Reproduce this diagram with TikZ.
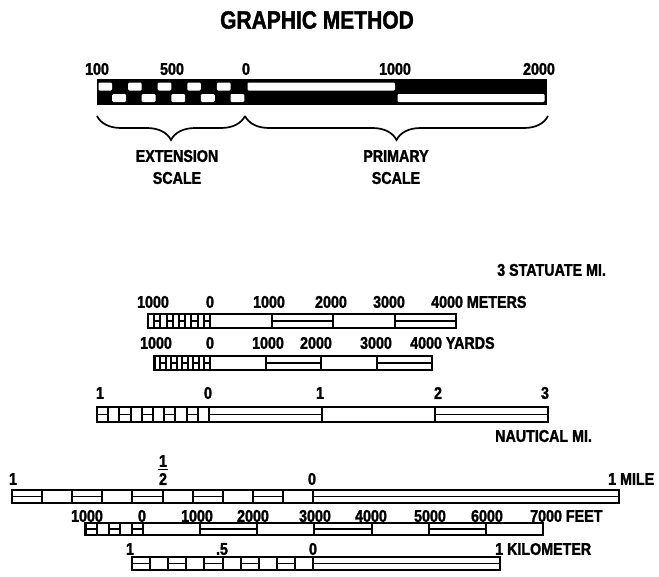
\documentclass[tikz,border=0pt]{standalone}
\usepackage{fontspec}
\setmainfont{Liberation Sans}[FakeStretch=0.84, BoldFeatures={FakeStretch=0.84, FakeBold=1.6}]
\usetikzlibrary{decorations.pathreplacing}
\tikzset{
 outer/.style={line width=2.8pt},
 div/.style={line width=2pt},
 mid/.style={line width=1.9pt},
 lab/.style={inner sep=0pt, font=\fontsize{17}{19}\selectfont\bfseries},
 ttl/.style={inner sep=0pt, font=\fontsize{25}{28}\selectfont\bfseries},
 bracestyle/.style={line width=1.7pt, decorate, decoration={brace, amplitude=24pt}},
 wcell/.style={fill=white, rounded corners=1.2pt},
}
% extension part: #1 left x, #2 zero x, #3 cells, #4 first cell '=' (1) or box (0), #5 top, #6 bottom
\newcommand\extpart[6]{%
  \pgfmathsetmacro\cwid{(#2-#1)/#3}%
  \pgfmathsetmacro\ymid{(#5+#6)/2}%
  \pgfmathtruncatemacro\nlast{#3-1}%
  \foreach \i in {1,...,\nlast} \draw[div] ({#1+\i*\cwid},#5) -- ({#1+\i*\cwid},#6);
  \foreach \i in {0,...,\nlast} {%
    \pgfmathtruncatemacro\pq{mod(\i+#4,2)}%
    \ifnum\pq=1 \draw[mid] ({#1+\i*\cwid},\ymid) -- ({#1+(\i+1)*\cwid},\ymid);\fi
  }%
}
\begin{document}
\begin{tikzpicture}[x=1pt,y=-1pt]
\useasboundingbox (0,0) rectangle (659,576);

% ---------- title ----------
\node[ttl] (title) at (317,20) {GRAPHIC METHOD};

% ---------- graphic bar ----------
\fill (97,79) rectangle (547,105);
\foreach \i in {0,2,4,6,8} \fill[wcell] ({97+\i*14.8+1.5},82.5) rectangle ({97+(\i+1)*14.8+0.3},90.5);
\foreach \i in {1,3,5,7,9} \fill[wcell] ({97+\i*14.8+0.3},94) rectangle ({97+(\i+1)*14.8-0.6},102);
\fill[wcell] (247.5,82.5) rectangle (395,90.5);
\fill[wcell] (397.5,94) rectangle (544.5,102);

\node[lab] (g100) at (97,69) {100};
\node[lab] (g500) at (172,69) {500};
\node[lab] (g0) at (246,69) {0};
\node[lab] (g1000) at (395,69) {1000};
\node[lab] (g2000) at (539,69) {2000};

\coordinate (bA) at (97,116);
\coordinate (bB) at (245,116);
\coordinate (bC) at (548,116);
\draw[bracestyle] (bB) -- (bA);
\draw[bracestyle] (bC) -- (bB);
\node[lab] (ext1) at (177,156) {EXTENSION};
\node[lab] (ext2) at (177,178) {SCALE};
\node[lab] (pri1) at (396,156) {PRIMARY};
\node[lab] (pri2) at (396,178) {SCALE};

% ---------- statute miles label ----------
\node[lab, anchor=west] (stat) at (497,270) {3 STATUATE MI.};

% ---------- meters ----------
\extpart{148}{210}{10}{0}{314}{328}
\foreach \x in {210,271.5,333,394.5} \draw[div] (\x,314) -- (\x,328);
\draw[mid] (271.5,321) -- (333,321);
\draw[mid] (394.5,321) -- (456,321);
\draw[outer] (148,314) rectangle (456,328);
\node[lab] (m1) at (153,302) {1000};
\node[lab] (m2) at (210,302) {0};
\node[lab] (m3) at (269,302) {1000};
\node[lab] (m4) at (331,302) {2000};
\node[lab] (m5) at (389,302) {3000};
\node[lab, anchor=west] (m6) at (431,302) {4000 METERS};

% ---------- yards ----------
\extpart{154.5}{210}{10}{0}{356}{370}
\foreach \x in {210,265.5,321,376.5} \draw[div] (\x,356) -- (\x,370);
\draw[mid] (265.5,363) -- (321,363);
\draw[mid] (376.5,363) -- (432,363);
\draw[outer] (154.5,356) rectangle (432,370);
\node[lab] (y1) at (156,343) {1000};
\node[lab] (y2) at (210,343) {0};
\node[lab] (y3) at (268,343) {1000};
\node[lab] (y4) at (316,343) {2000};
\node[lab] (y5) at (376,343) {3000};
\node[lab, anchor=west] (y6) at (410,343) {4000 YARDS};

% ---------- nautical ----------
\extpart{97}{209}{10}{1}{407}{422}
\foreach \x in {209,322,435} \draw[div] (\x,407) -- (\x,422);
\draw[mid] (209,414.5) -- (322,414.5);
\draw[mid] (435,414.5) -- (548,414.5);
\draw[outer] (97,407) rectangle (548,422);
\node[lab] (n1) at (100,393) {1};
\node[lab] (n2) at (208,393) {0};
\node[lab] (n3) at (320,393) {1};
\node[lab] (n4) at (438,393) {2};
\node[lab] (n5) at (545,393) {3};
\node[lab, anchor=west] (n6) at (495,436) {NAUTICAL MI.};

% ---------- mile ----------
\extpart{12}{313}{10}{1}{490}{503}
\draw[div] (313,490) -- (313,503);
\draw[mid] (313,496.5) -- (619,496.5);
\draw[outer] (12,490) rectangle (619,503);
\node[lab] (mi1) at (13,479) {1};
\node[lab] (mih1) at (163,461) {1};
\draw[line width=1.6pt] (158,469.5) -- (168,469.5);
\node[lab] (mih2) at (163,479) {2};
\node[lab] (mi0) at (312,479) {0};
\node[lab, anchor=west] (mie) at (608,479) {1 MILE};

% ---------- feet ----------
\extpart{85.8}{143}{5}{1}{523}{535}
\foreach \k in {0,...,6} \draw[div] ({143+\k*57.14},523) -- ({143+\k*57.14},535);
\foreach \k in {1,3,5} \draw[mid] ({143+\k*57.14},529) -- ({143+(\k+1)*57.14},529);
\draw[outer] (85.8,523) rectangle (543,535);
\node[lab] (f1) at (87,516) {1000};
\node[lab] (f2) at (142,516) {0};
\node[lab] (f3) at (197,516) {1000};
\node[lab] (f4) at (253,516) {2000};
\node[lab] (f5) at (315,516) {3000};
\node[lab] (f6) at (371,516) {4000};
\node[lab] (f7) at (430,516) {5000};
\node[lab] (f8) at (487,516) {6000};
\node[lab, anchor=west] (f9) at (530,516) {7000 FEET};

% ---------- kilometer ----------
\extpart{132}{313}{10}{1}{557}{570}
\draw[div] (313,557) -- (313,570);
\draw[mid] (313,563.5) -- (500,563.5);
\draw[outer] (132,557) rectangle (500,570);
\node[lab] (k1) at (130,549) {1};
\node[lab] (k2) at (222,549) {.5};
\node[lab] (k3) at (313,549) {0};
\node[lab, anchor=west] (k4) at (495,549) {1 KILOMETER};
\end{tikzpicture}
\end{document}
